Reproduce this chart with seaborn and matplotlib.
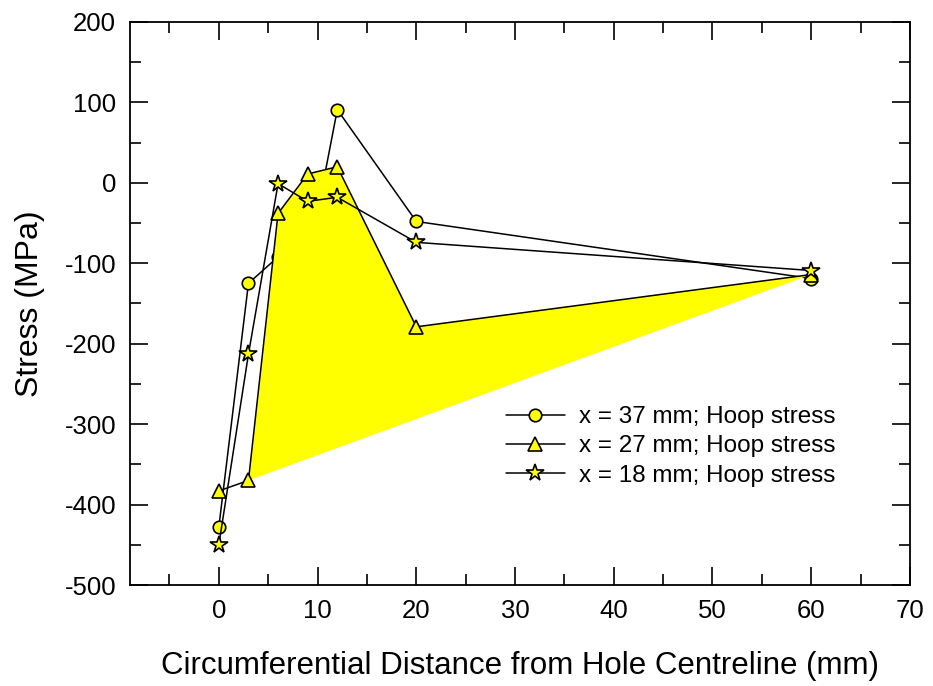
import matplotlib
matplotlib.use('Agg')
import matplotlib.pyplot as plt
import seaborn as sns
import pandas as pd

# distances from hole centreline (mm)
dist = [0, 3, 6, 9, 12, 20, 60]
# hoop stress (MPa) at three x positions
hoop_37 = [-428, -125, -92, -100, 91, -48, -119]
hoop_27 = [-383, -370, -38, 11, 20, -179, -114]
hoop_18 = [-450, -213, -1, -23, -18, -74, -109]
labels = ['x = 37 mm; Hoop stress', 'x = 27 mm; Hoop stress', 'x = 18 mm; Hoop stress']

sns.set_style('ticks')
plt.rcParams['font.family'] = ['Liberation Sans', 'DejaVu Sans']
plt.rcParams['axes.unicode_minus'] = False
plt.rcParams['text.color'] = 'black'
plt.rcParams['axes.labelcolor'] = 'black'
plt.rcParams['xtick.color'] = 'black'
plt.rcParams['ytick.color'] = 'black'
plt.rcParams['axes.edgecolor'] = 'black'

fig = plt.figure(figsize=(9.33, 6.86), dpi=100)
ax = fig.add_axes([0.1393, 0.1472, 0.836, 0.8208])

df = pd.DataFrame({'dist': dist, 'h37': hoop_37, 'h27': hoop_27, 'h18': hoop_18})

mk = dict(markerfacecolor='yellow', markeredgecolor='black', markeredgewidth=1.2)
sns.lineplot(data=df, x='dist', y='h37', sort=False, ax=ax, color='black', lw=1.1,
             marker='o', markersize=9, label=labels[0], zorder=1, **mk)
# shaded region of the 27 mm profile
ax.fill(df['dist'][1:], df['h27'][1:], color='yellow', zorder=2, lw=0)
sns.lineplot(data=df, x='dist', y='h27', sort=False, ax=ax, color='black', lw=1.1,
             marker='^', markersize=10, label=labels[1], zorder=3, **mk)
sns.lineplot(data=df, x='dist', y='h18', sort=False, ax=ax, color='black', lw=1.1,
             marker='*', markersize=13, label=labels[2], zorder=3, **mk)

ax.set_xlim(-9, 70)
ax.set_ylim(-500, 200)
ax.set_xticks(range(0, 71, 10))
ax.set_xticks(range(-5, 70, 10), minor=True)
ax.set_yticks(range(-500, 201, 100))
ax.set_yticks(range(-450, 200, 100), minor=True)
ax.tick_params(which='both', direction='in', top=True, right=True, width=1.2,
               labelsize=18.5, pad=10)
ax.tick_params(which='major', length=13)
ax.tick_params(which='minor', length=8)
for s in ax.spines.values():
    s.set_linewidth(1.3)

ax.set_xlabel('Circumferential Distance from Hole Centreline (mm)', fontsize=22.5, labelpad=20)
ax.set_ylabel('Stress (MPa)', fontsize=23, labelpad=14)

ax.legend(loc='upper left', bbox_to_anchor=(0.47, 0.335), frameon=False, fontsize=17.5,
          handlelength=2.4, handletextpad=0.6, labelspacing=0.3, borderaxespad=0)

fig.savefig('out.png', dpi=100)
